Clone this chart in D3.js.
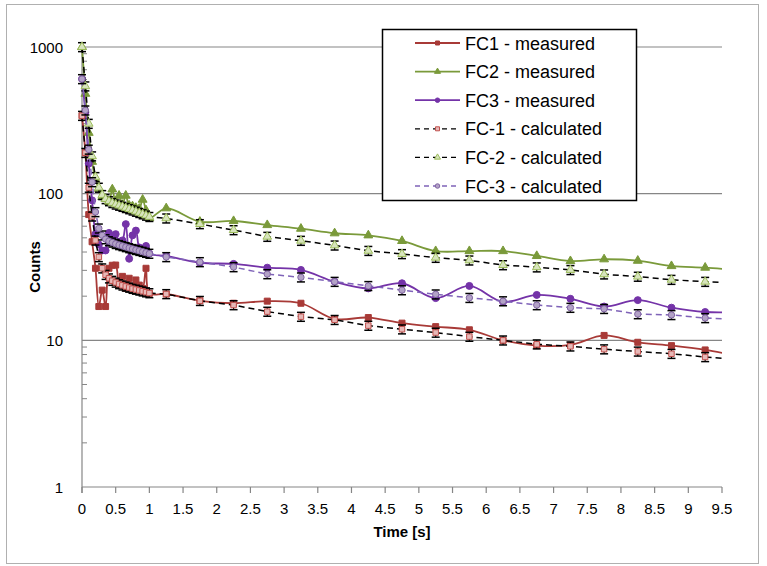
<!DOCTYPE html>
<html>
<head>
<meta charset="utf-8">
<script src="https://cdn.jsdelivr.net/npm/d3@7/dist/d3.min.js"></script>
<style>
  body { margin: 0; background: #fff; }
  svg { display: block; font-family: "Liberation Sans", Arial, sans-serif; }
</style>
</head>
<body>
<div id="chart"></div>
<script>
// ---------------------------------------------------------
// DATA
// ---------------------------------------------------------
const times = [0, 0.05, 0.1, 0.15, 0.2, 0.25, 0.3, 0.35, 0.4, 0.45, 0.5,
  0.55, 0.6, 0.65, 0.7, 0.75, 0.8, 0.85, 0.9, 0.95, 1.0,
  1.25, 1.75, 2.25, 2.75, 3.25, 3.75, 4.25, 4.75, 5.25, 5.75,
  6.25, 6.75, 7.25, 7.75, 8.25, 8.75, 9.25, 9.75];

const fc1Measured = [340, 190, 72, 47, 31, 17, 22, 17, 31, 32.5, 32.6,
  23.8, 27.3, 22.6, 26.5, 23.2, 25.8, 23.8, 22.6, 31, 20.9,
  20.7, 18.6, 17.9, 18.5, 17.9, 14.0, 14.3, 13.1, 12.4, 11.8,
  10.0, 9.2, 9.3, 10.8, 9.7, 9.2, 8.6, 7.8];

const fc2Measured = [1000, 480, 260, 165, 125, 108, 95, 92, 88, 107, 86,
  97, 84, 97, 83, 82, 80, 79, 91, 77, 68,
  79.5, 64.4, 65.1, 61.1, 57.7, 53.7, 52.0, 47.6, 40.6, 40.6,
  40.6, 37.6, 34.7, 35.7, 34.9, 32.1, 31.3, 30.1];

const fc3Measured = [605, 360, 160, 90, 53, 45, 41, 41, 54, 50, 53,
  47, 48, 62, 36, 52, 56, 43, 42, 44, 39,
  37.6, 33.8, 33.2, 31.3, 30.2, 25.1, 22.6, 24.5, 19.4, 23.5,
  18.3, 20.4, 19.2, 17.0, 18.8, 16.7, 15.6, 15.6];

const fc1Calc = [340, 190, 110, 70, 48, 37, 31, 28, 26.5, 25.5, 24.8,
  24.2, 23.7, 23.3, 22.9, 22.5, 22.2, 21.9, 21.6, 21.3, 21.0,
  20.7, 18.6, 17.4, 15.7, 14.5, 13.8, 12.6, 11.9, 11.3, 10.6,
  10.0, 9.4, 9.1, 8.7, 8.4, 8.1, 7.7, 7.4];

const fc2Calc = [1000, 540, 300, 180, 130, 110, 98, 92, 89, 86.5, 84.5,
  83, 81.5, 80, 78.5, 77, 75.5, 74, 72.5, 71, 69.5,
  67.9, 62.1, 56.5, 50.9, 47.8, 44.4, 40.8, 38.8, 36.6, 35.1,
  32.6, 31.5, 30.2, 28.2, 27.2, 25.9, 25.1, 24.5];

const fc3Calc = [605, 370, 200, 120, 75, 58, 52, 49, 47.5, 46.5, 45.5,
  44.7, 44, 43.3, 42.6, 42, 41.4, 40.8, 40.2, 39.6, 39,
  37.0, 34.2, 31.6, 28.3, 26.9, 25.1, 23.5, 22.0, 20.6, 19.5,
  18.5, 17.4, 16.7, 16.4, 15.1, 14.9, 14.2, 13.9];

const calcRelError = 0.07;

const legendLabels = ["FC1 - measured", "FC2 - measured", "FC3 - measured",
  "FC-1 - calculated", "FC-2 - calculated", "FC-3 - calculated"];

const xTickValues = [0, 0.5, 1, 1.5, 2, 2.5, 3, 3.5, 4, 4.5, 5, 5.5, 6, 6.5, 7, 7.5, 8, 8.5, 9, 9.5];
const yTickValues = [1, 10, 100, 1000];

// ---------------------------------------------------------
// SERIES STYLES
// ---------------------------------------------------------
const series = [
  { values: fc1Measured, line: "#A83A37", dash: null, shape: d3.symbolSquare, size: 36, fill: "#A83A37", stroke: "#A83A37", smooth: true },
  { values: fc2Measured, line: "#7A9A3A", dash: null, shape: d3.symbolTriangle, size: 34, fill: "#7A9A3A", stroke: "#7A9A3A", smooth: true },
  { values: fc3Measured, line: "#7433A8", dash: null, shape: d3.symbolCircle, size: 38, fill: "#7433A8", stroke: "#7433A8", smooth: true },
  { values: fc1Calc, line: "#000", dash: "6,4", shape: d3.symbolSquare, size: 30, fill: "#E6B9B8", stroke: "#C0504D", err: true },
  { values: fc2Calc, line: "#000", dash: "6,4", shape: d3.symbolTriangle, size: 32, fill: "#D7E4BD", stroke: "#9BBB59", err: true },
  { values: fc3Calc, line: "#7F63B8", dash: "6,4", shape: d3.symbolCircle, size: 32, fill: "#B3A2C7", stroke: "#8064A2", err: true }
];

// ---------------------------------------------------------
// SETUP
// ---------------------------------------------------------
const width = 767, height = 566;
const svg = d3.select("#chart").append("svg")
    .attr("width", width)
    .attr("height", height);

// chart border
svg.append("rect")
    .attr("x", 6.5).attr("y", 4.5)
    .attr("width", 752).attr("height", 559)
    .attr("fill", "#fff")
    .attr("stroke", "#B0B0B0");

const x = d3.scaleLinear().domain([0, 9.5]).range([82, 722]);
const y = d3.scaleLog().domain([1, 1000]).range([487, 47]);

const axisColor = "#868686";

// gridlines
svg.append("g").selectAll("line")
  .data(yTickValues.filter(v => v > 1))
  .enter().append("line")
    .attr("x1", x(0)).attr("x2", x(9.5))
    .attr("y1", d => y(d)).attr("y2", d => y(d))
    .attr("stroke", axisColor).attr("stroke-width", 1.2);

// axes lines
svg.append("line")
    .attr("x1", x(0)).attr("x2", x(0))
    .attr("y1", y(1000)).attr("y2", y(1) + 6)
    .attr("stroke", axisColor).attr("stroke-width", 1.2);
svg.append("line")
    .attr("x1", x(0)).attr("x2", x(9.5))
    .attr("y1", y(1)).attr("y2", y(1))
    .attr("stroke", axisColor).attr("stroke-width", 1.2);

// x ticks
svg.append("g").selectAll("line")
  .data(xTickValues)
  .enter().append("line")
    .attr("x1", d => x(d)).attr("x2", d => x(d))
    .attr("y1", y(1)).attr("y2", y(1) + 6)
    .attr("stroke", axisColor).attr("stroke-width", 1.2);

// y minor ticks (inside)
const minor = y.ticks().filter(v => yTickValues.indexOf(v) < 0);
svg.append("g").selectAll("line")
  .data(minor)
  .enter().append("line")
    .attr("x1", x(0)).attr("x2", x(0) + 5)
    .attr("y1", d => y(d)).attr("y2", d => y(d))
    .attr("stroke", axisColor).attr("stroke-width", 1);

// tick labels
svg.append("g").selectAll("text")
  .data(xTickValues)
  .enter().append("text")
    .attr("x", d => x(d))
    .attr("y", 514)
    .attr("text-anchor", "middle")
    .style("font-size", "15px")
    .style("fill", "#000")
    .text(d => d);

svg.append("g").selectAll("text")
  .data(yTickValues)
  .enter().append("text")
    .attr("x", 63)
    .attr("y", d => y(d) + 5.5)
    .attr("text-anchor", "end")
    .style("font-size", "15px")
    .style("fill", "#000")
    .text(d => d);

// axis titles
svg.append("text")
    .attr("x", (x(0) + x(9.5)) / 2)
    .attr("y", 537)
    .attr("text-anchor", "middle")
    .style("font-size", "15px")
    .style("font-weight", "bold")
    .text("Time [s]");

svg.append("text")
    .attr("transform", `translate(40,${(y(1) + y(1000)) / 2}) rotate(-90)`)
    .attr("text-anchor", "middle")
    .style("font-size", "15px")
    .style("font-weight", "bold")
    .text("Counts");

// ---------------------------------------------------------
// SERIES
// ---------------------------------------------------------
svg.append("clipPath").attr("id", "plotClip")
  .append("rect")
    .attr("x", 70).attr("y", 30)
    .attr("width", x(9.5) - 70).attr("height", 470);

const gPlot = svg.append("g").attr("clip-path", "url(#plotClip)");

function drawSeries(s) {
  const pts = times.map((t, i) => [t, s.values[i]]);
  const line = d3.line()
      .x(d => x(d[0]))
      .y(d => y(d[1]))
      .curve(s.smooth ? d3.curveCatmullRom.alpha(0.5) : d3.curveLinear);

  const g = gPlot.append("g");
  g.append("path")
      .datum(pts)
      .attr("d", line)
      .attr("fill", "none")
      .attr("stroke", s.line)
      .attr("stroke-width", s.dash ? 1.5 : 1.8)
      .attr("stroke-dasharray", s.dash);

  if (s.err) {
    const eb = g.selectAll(".err").data(pts).enter().append("g");
    eb.append("line")
        .attr("x1", d => x(d[0])).attr("x2", d => x(d[0]))
        .attr("y1", d => y(d[1] * (1 + calcRelError)))
        .attr("y2", d => y(d[1] * (1 - calcRelError)))
        .attr("stroke", "#000").attr("stroke-width", 1.2);
    [1 + calcRelError, 1 - calcRelError].forEach(f => {
      eb.append("line")
          .attr("x1", d => x(d[0]) - 4).attr("x2", d => x(d[0]) + 4)
          .attr("y1", d => y(d[1] * f)).attr("y2", d => y(d[1] * f))
          .attr("stroke", "#000").attr("stroke-width", 1.5);
    });
  }

  g.selectAll(".mk").data(pts).enter().append("path")
      .attr("transform", d => `translate(${x(d[0])},${y(d[1])})`)
      .attr("d", d3.symbol().type(s.shape).size(s.size))
      .attr("fill", s.fill)
      .attr("stroke", s.stroke)
      .attr("stroke-width", 1);
}

series.forEach(drawSeries);

// ---------------------------------------------------------
// LEGEND
// ---------------------------------------------------------
const legend = svg.append("g");
legend.append("rect")
    .attr("x", 382.5).attr("y", 29.5)
    .attr("width", 254).attr("height", 171)
    .attr("fill", "#fff")
    .attr("stroke", "#000")
    .attr("stroke-width", 1.5);

series.forEach((s, i) => {
  const ly = 43 + i * 28.6;
  legend.append("line")
      .attr("x1", 415).attr("x2", 460)
      .attr("y1", ly).attr("y2", ly)
      .attr("stroke", s.line)
      .attr("stroke-width", s.dash ? 1.3 : 1.8)
      .attr("stroke-dasharray", s.dash ? "5,4" : null);
  legend.append("path")
      .attr("transform", `translate(437.5,${ly})`)
      .attr("d", d3.symbol().type(s.shape).size(16))
      .attr("fill", s.fill)
      .attr("stroke", s.stroke)
      .attr("stroke-width", 1);
  legend.append("text")
      .attr("x", 465)
      .attr("y", ly + 6.5)
      .style("font-size", "18px")
      .style("fill", "#000")
      .text(legendLabels[i]);
});
</script>
</body>
</html>
